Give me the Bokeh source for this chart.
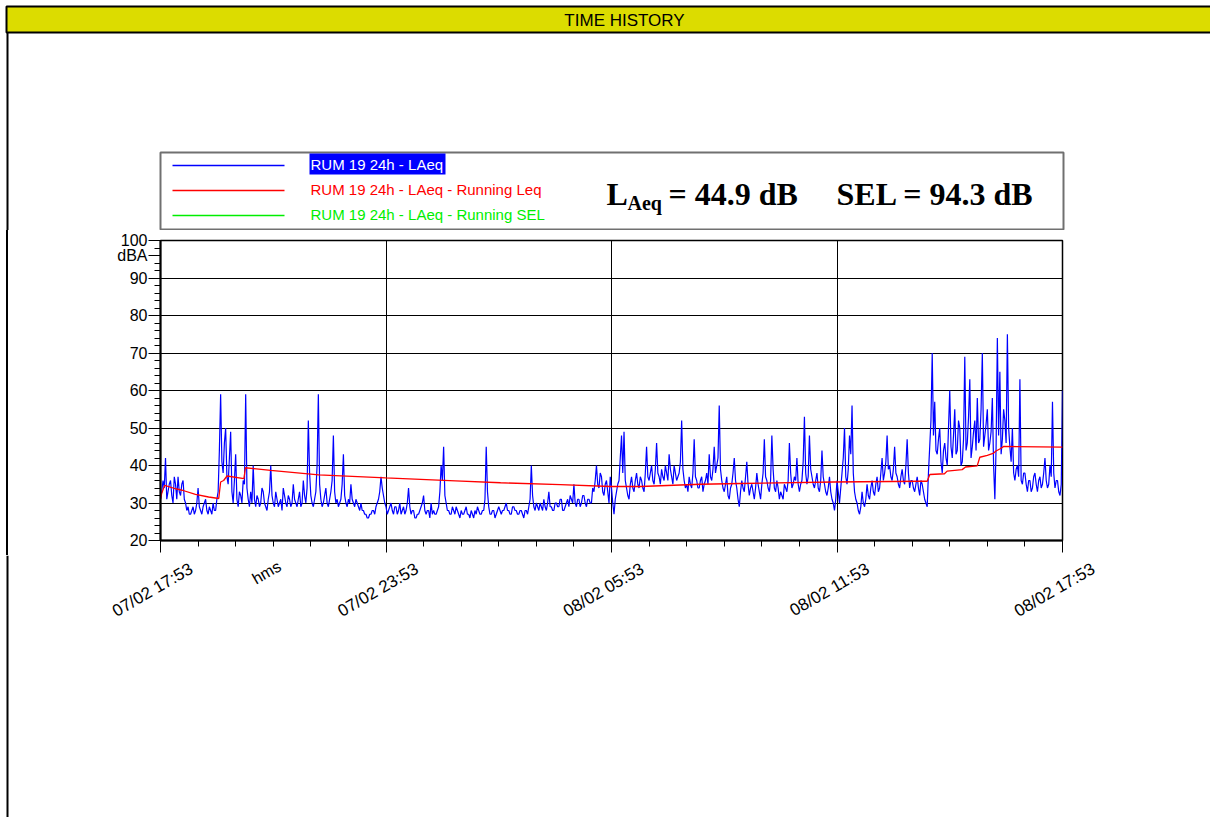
import math
import pandas as pd
from bokeh.plotting import figure
from bokeh.layouts import column, row
from bokeh.models import FixedTicker, Range1d, Div
from bokeh.core.properties import value
from bokeh.embed import file_html
from bokeh.resources import INLINE

# ---------------- data ----------------
START = "2019-02-07 17:53"
STEP_MIN = 2  # minutes between LAeq samples

laeq = [
    31, 33, 36, 34, 42, 31, 33, 35, 36, 32, 30, 37, 35, 31, 37, 33, 32, 35, 36, 31, 30, 28, 29, 27, 27, 28, 29, 27, 28, 30,
    34, 29, 28, 27, 29, 30, 31, 28, 27, 29, 28, 27, 30, 28, 28, 31, 33, 44, 59, 41, 38, 46, 50, 37, 35, 42, 49, 33, 30, 36,
    43, 31, 29, 33, 32, 30, 36, 35, 59, 34, 31, 29, 33, 30, 40, 31, 29, 32, 31, 29, 30, 34, 33, 30, 29, 28, 31, 33, 40, 32,
    30, 29, 33, 31, 29, 30, 31, 28, 34, 32, 30, 29, 32, 31, 29, 30, 35, 31, 30, 29, 31, 33, 29, 30, 36, 32, 30, 34, 52, 38,
    32, 30, 29, 31, 33, 40, 59, 35, 31, 29, 30, 32, 34, 30, 29, 31, 33, 36, 48, 33, 30, 31, 29, 30, 31, 35, 43, 32, 30, 29,
    31, 30, 35, 31, 30, 29, 31, 30, 29, 28, 30, 28, 28, 27, 27, 26, 26, 27, 27, 28, 28, 27, 29, 30, 31, 33, 37, 34, 32, 30,
    29, 27, 28, 29, 30, 28, 27, 29, 29, 27, 28, 30, 27, 28, 29, 27, 28, 30, 34, 29, 27, 28, 28, 26, 26, 27, 27, 28, 29, 30,
    32, 28, 27, 28, 28, 26, 30, 27, 28, 27, 27, 28, 29, 33, 40, 36, 45, 32, 30, 28, 28, 27, 27, 29, 28, 27, 29, 28, 27, 26,
    28, 27, 27, 28, 29, 27, 27, 26, 28, 27, 26, 28, 27, 29, 28, 27, 27, 28, 28, 31, 45, 33, 29, 27, 27, 28, 28, 26, 27, 28,
    29, 28, 27, 28, 28, 29, 30, 28, 28, 27, 27, 29, 29, 28, 28, 27, 27, 28, 28, 27, 26, 28, 28, 27, 29, 31, 40, 32, 29, 28,
    30, 29, 28, 30, 29, 28, 31, 29, 28, 30, 33, 29, 29, 28, 28, 30, 30, 29, 29, 31, 31, 28, 28, 29, 30, 31, 29, 32, 31, 30,
    35, 30, 29, 31, 31, 29, 30, 32, 32, 30, 29, 31, 31, 30, 30, 34, 33, 36, 40, 35, 34, 38, 37, 33, 32, 35, 36, 33, 30, 37,
    34, 30, 27, 31, 33, 35, 36, 42, 48, 38, 49, 36, 34, 32, 31, 35, 37, 34, 33, 36, 38, 35, 34, 37, 36, 34, 33, 38, 45, 37,
    36, 38, 40, 36, 35, 39, 46, 38, 37, 35, 39, 37, 36, 40, 38, 36, 43, 39, 37, 35, 40, 38, 36, 37, 38, 41, 52, 39, 36, 34,
    35, 33, 37, 35, 34, 38, 47, 37, 36, 34, 34, 36, 37, 33, 35, 36, 38, 35, 43, 37, 36, 39, 45, 38, 40, 42, 56, 39, 36, 34,
    33, 35, 37, 32, 31, 34, 35, 38, 42, 36, 34, 31, 29, 33, 36, 34, 33, 37, 41, 35, 32, 34, 35, 33, 31, 34, 38, 35, 33, 31,
    35, 38, 47, 37, 36, 34, 33, 36, 48, 39, 34, 33, 36, 34, 31, 33, 32, 31, 35, 34, 33, 36, 46, 38, 34, 35, 37, 36, 42, 35,
    33, 35, 36, 41, 53, 38, 35, 37, 48, 39, 37, 35, 34, 36, 38, 34, 33, 36, 44, 37, 35, 33, 32, 34, 37, 33, 31, 30, 28, 31,
    36, 33, 30, 34, 38, 42, 50, 37, 35, 39, 48, 43, 56, 38, 33, 31, 30, 28, 27, 29, 33, 30, 29, 31, 35, 32, 31, 34, 36, 33,
    32, 35, 37, 33, 34, 38, 42, 36, 38, 41, 48, 39, 40, 37, 36, 39, 45, 38, 37, 35, 34, 37, 39, 36, 35, 40, 47, 38, 34, 36,
    36, 34, 33, 35, 37, 34, 32, 36, 35, 33, 31, 30, 29, 38, 45, 52, 70, 48, 57, 44, 43, 47, 50, 41, 38, 44, 46, 42, 40, 50,
    60, 45, 42, 48, 55, 43, 44, 52, 50, 40, 41, 47, 69, 44, 46, 53, 63, 42, 45, 49, 52, 44, 58, 46, 47, 55, 70, 45, 48, 51,
    55, 44, 46, 49, 58, 40, 31, 45, 74, 48, 65, 43, 47, 55, 52, 46, 75, 50, 45, 41, 50, 38, 36, 39, 40, 37, 63, 36, 35, 38,
    38, 35, 33, 36, 36, 33, 34, 37, 38, 35, 33, 36, 37, 34, 35, 38, 42, 36, 34, 35, 40, 37, 57, 38, 34, 36, 36, 33, 32, 35,
    60,
]

running_leq_hours = [0.00, 0.03, 0.11, 0.40, 0.58, 0.93, 1.28, 1.55, 1.60, 1.68,
                     1.77, 2.22, 2.26, 2.93, 4.21, 5.99, 7.85, 9.05, 10.64, 11.97,
                     12.77, 14.37, 15.43, 17.90, 20.20, 20.40, 20.47, 20.86, 20.93, 21.33,
                     21.42, 21.73, 21.80, 22.00, 22.17, 22.22, 22.33, 22.44, 24.00]
running_leq = [31.0, 32.5, 34.7, 33.8, 33.4, 32.3, 31.6, 31.2, 35.6, 36.0,
               37.2, 36.5, 39.4, 38.7, 37.5, 36.7, 35.9, 35.4, 34.9, 34.4,
               34.4, 35.0, 35.2, 35.6, 35.8, 35.8, 37.6, 37.8, 38.5, 38.9,
               39.6, 39.9, 42.2, 42.7, 43.3, 43.8, 44.4, 45.1, 44.9]

major_tick_hours = [0, 6, 12, 18, 24]
y_major = [20, 30, 40, 50, 60, 70, 80, 90, 100]
y_unit_tick = 96
y_unit = "dBA"
x_unit = "hms"
series_names = ["RUM 19 24h - LAeq",
                "RUM 19 24h - LAeq - Running Leq",
                "RUM 19 24h - LAeq - Running SEL"]
series_colors = ["#0000ff", "#ff0000", "#00ee00"]
laeq_total = "44.9"
sel_total = "94.3"

# ---------------- helpers ----------------
FONT = "Liberation Sans"
SERIF = "Liberation Serif"
t0 = pd.Timestamp(START)
t_end = t0 + pd.Timedelta(hours=24)
times = [t0 + pd.Timedelta(minutes=STEP_MIN * i) for i in range(len(laeq))]
leq_times = [t0 + pd.Timedelta(hours=h) for h in running_leq_hours]
tick_times = [t0 + pd.Timedelta(hours=h) for h in major_tick_hours]
tick_labels = [t.strftime("%d/%m %H:%M") for t in tick_times]


def ms(ts):
    return (ts - pd.Timestamp("1970-01-01")).total_seconds() * 1000.0


def plain(fig):
    fig.xaxis.visible = False
    fig.yaxis.visible = False
    fig.grid.visible = False
    fig.outline_line_color = None
    fig.background_fill_color = "white"
    fig.border_fill_color = "white"
    return fig


# page geometry
W, H = 1210, 817
TOP_H = 230          # header strip
FRAME_L, FRAME_W = 160, 902
FRAME_T, FRAME_H = 240, 300
MID_BOTTOM = 15
MID_H = (FRAME_T - TOP_H) + FRAME_H + MID_BOTTOM
BOT_H = H - TOP_H - MID_H

# ---------------- header (title bar, legend, totals) ----------------
fa = plain(figure(width=W, height=TOP_H, x_range=Range1d(0, W), y_range=Range1d(TOP_H, 0),
                  min_border=0, output_backend="svg", toolbar_location=None))
fa.quad(left=[6], right=[8], top=[6], bottom=[TOP_H], fill_color="black", line_color=None)
fa.quad(left=[6], right=[W + 6], top=[6], bottom=[32], fill_color="#dcdc00",
        line_color="black", line_width=2)
fa.text(x=[624], y=[20], text=["TIME HISTORY"], text_align="center", text_baseline="middle",
        text_font=value(FONT), text_font_size=value("17px"), text_color="black")

fa.quad(left=[160], right=[1063], top=[152], bottom=[229], fill_color="white",
        line_color="#707070", line_width=2)
row_y = [165, 190, 215]
fa.segment(x0=[172] * 3, y0=row_y, x1=[284] * 3, y1=row_y, line_color=series_colors, line_width=1.3)
fa.quad(left=[309], right=[445], top=[153], bottom=[174], fill_color=series_colors[0], line_color=None)
fa.text(x=[310] * 3, y=[y - 1 for y in row_y], text=series_names,
        text_color=["white", series_colors[1], series_colors[2]],
        text_font=value(FONT), text_font_size=value("15px"), text_baseline="middle")

fa.text(x=[606, 668, 836], y=[193, 193, 193],
        text=["L", "= " + laeq_total + " dB", "SEL = " + sel_total + " dB"],
        text_font=value(SERIF), text_font_style="bold", text_font_size=value("32px"),
        text_baseline="alphabetic", text_color="black")
fa.text(x=[627], y=[202], text=["Aeq"], text_font=value(SERIF), text_font_style="bold",
        text_font_size=value("20px"), text_baseline="alphabetic", text_color="black")

# ---------------- chart ----------------
border = Div(text='<div style="margin:0 0 0 6px;padding:0;width:2px;height:%dpx;background:#000"></div>' % MID_H,
             width=8, height=MID_H, margin=0)

p = figure(frame_width=FRAME_W, frame_height=FRAME_H, x_axis_type="datetime",
           x_range=Range1d(t0, t_end), y_range=Range1d(y_major[0], y_major[-1]),
           output_backend="svg", toolbar_location=None,
           min_border_left=FRAME_L - 8, min_border_right=W - FRAME_L - FRAME_W,
           min_border_top=FRAME_T - TOP_H, min_border_bottom=MID_BOTTOM)
p.background_fill_color = "white"
p.border_fill_color = "white"
p.outline_line_color = "black"
p.outline_line_width = 1.5

p.line(times, laeq, color=series_colors[0], line_width=1.2)
p.line(leq_times, running_leq, color=series_colors[1], line_width=1.3)

major_ticks = [ms(t) for t in tick_times]
minor_ticks = [ms(t0 + pd.Timedelta(hours=h)) for h in range(25)]
xa = p.xaxis[0]
xa.ticker = FixedTicker(ticks=major_ticks, minor_ticks=minor_ticks)
xa.major_label_overrides = {t: "" for t in major_ticks}
xa.major_label_standoff = 0
ya = p.yaxis[0]
ya.ticker = FixedTicker(ticks=y_major + [y_unit_tick], minor_ticks=list(range(20, 101, 2)))
ya.major_label_overrides = {y_unit_tick: y_unit}
ya.major_label_standoff = 1
for ax in (xa, ya):
    ax.axis_line_color = "black"
    ax.axis_line_width = 2
    ax.major_tick_line_color = "black"
    ax.minor_tick_line_color = "black"
    ax.major_tick_in = 0
    ax.major_tick_out = 12
    ax.minor_tick_in = 0
    ax.minor_tick_out = 6
    ax.major_label_text_font = FONT
    ax.major_label_text_font_size = "16px"
    ax.major_label_text_color = "black"

p.xgrid.ticker = FixedTicker(ticks=major_ticks)
p.ygrid.ticker = FixedTicker(ticks=y_major)
p.xgrid.grid_line_color = "black"
p.ygrid.grid_line_color = "black"
p.xgrid.grid_line_width = 1
p.ygrid.grid_line_width = 1

# ---------------- rotated time labels below the chart ----------------
hpp = 24.0 / FRAME_W  # hours per pixel of the chart frame
fc = plain(figure(width=W, height=BOT_H,
                  x_range=Range1d(t0 - pd.Timedelta(hours=FRAME_L * hpp),
                                  t0 + pd.Timedelta(hours=(W - FRAME_L) * hpp)),
                  y_range=Range1d(H, H - BOT_H), min_border=0,
                  output_backend="svg", toolbar_location=None))
fc.extra_x_ranges = {"px": Range1d(0, W)}
fc.quad(left=[6], right=[8], top=[H - BOT_H], bottom=[H], fill_color="black", line_color=None,
        x_range_name="px")
fc.text(x=tick_times, y=[567] * len(tick_times), text=tick_labels, angle=math.radians(30),
        x_offset=31, text_align="right", text_baseline="middle",
        text_font=value(FONT), text_font_size=value("17px"), text_color="black")
fc.text(x=[266], y=[572], text=[x_unit], angle=math.radians(30), x_range_name="px",
        text_align="center", text_baseline="middle",
        text_font=value(FONT), text_font_size=value("16px"), text_color="black")

layout = column(fa, row(border, p), fc)
open("out.html", "w").write(file_html(layout, INLINE))
